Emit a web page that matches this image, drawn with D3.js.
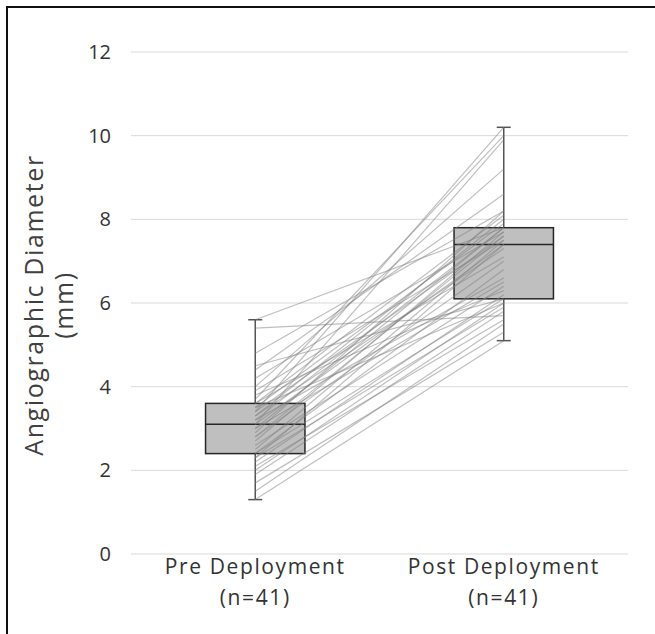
<!DOCTYPE html>
<html>
<head>
<meta charset="utf-8">
<script src="https://cdn.jsdelivr.net/npm/d3@7"></script>
<style>
  body { margin: 0; background: #fff; }
  svg { display: block; }
</style>
</head>
<body>
<div id="chart"></div>
<script>
// paired measurements, one entry per patient
let categories = ["Pre Deployment", "Post Deployment"];
let countLabels = ["(n=41)", "(n=41)"];
let preValues = [1.3, 1.5, 1.7, 1.9, 2.0, 2.1, 2.2, 2.3, 2.3, 2.4, 2.4, 2.5, 2.6, 2.7,
    2.8, 2.8, 2.9, 3.0, 3.0, 3.1, 3.1, 3.2, 3.2, 3.3, 3.3, 3.4, 3.4, 3.5, 3.5, 3.6,
    3.6, 3.7, 3.8, 3.9, 4.0, 4.2, 4.4, 4.5, 4.8, 5.4, 5.6];
let postValues = [5.1, 5.5, 5.3, 5.8, 6.0, 5.6, 6.2, 7.4, 5.9, 6.1, 6.8, 7.5, 6.4, 7.7,
    7.0, 7.6, 8.2, 7.8, 6.5, 7.4, 9.9, 7.8, 6.6, 8.0, 7.3, 10.2, 7.6, 7.9, 6.0, 8.1,
    7.1, 10.0, 6.3, 7.5, 9.2, 7.7, 8.6, 6.1, 8.2, 5.7, 7.8];
let yTicks = [0, 2, 4, 6, 8, 10, 12];

let w = 655;
let h = 634;

let svg = d3.select("#chart")
    .append("svg")
    .attr("width", w)
    .attr("height", h);

// frame (only top and left edges show)
svg.append("path")
    .attr("d", "M7,634 L7,7 L655,7")
    .attr("fill", "none")
    .attr("stroke", "#111")
    .attr("stroke-width", 2);

let x = d3.scaleBand()
    .domain(categories)
    .range([131, 628]);

let y = d3.scaleLinear()
    .domain([0, 12])
    .range([554, 52]);

// gridlines
svg.selectAll("line.grid")
    .data(yTicks)
    .enter()
    .append("line")
    .attr("class", "grid")
    .attr("x1", 131)
    .attr("x2", 628)
    .attr("y1", d => y(d))
    .attr("y2", d => y(d))
    .attr("stroke", "#d9d9d9")
    .attr("stroke-width", 1);

// y axis labels
let yAxis = d3.axisLeft(y).tickValues(yTicks).tickSize(0).tickPadding(0);
let yg = svg.append("g")
    .attr("transform", "translate(111,0)")
    .call(yAxis);
yg.select(".domain").remove();
yg.selectAll("text")
    .attr("font-family", "Open Sans")
    .attr("font-size", "20px")
    .attr("fill", "#333");

// x axis labels
let xg = svg.append("g");
xg.selectAll("text.cat")
    .data(categories)
    .enter()
    .append("text")
    .attr("class", "cat")
    .attr("x", d => x(d) + x.bandwidth() / 2)
    .attr("y", 574)
    .attr("text-anchor", "middle")
    .attr("font-family", "Open Sans")
    .attr("font-size", "21px")
    .attr("letter-spacing", "1.6px")
    .attr("fill", "#333")
    .text(d => d);
xg.selectAll("text.n")
    .data(categories)
    .enter()
    .append("text")
    .attr("class", "n")
    .attr("x", d => x(d) + x.bandwidth() / 2)
    .attr("y", 605)
    .attr("text-anchor", "middle")
    .attr("font-family", "Open Sans")
    .attr("font-size", "21px")
    .attr("letter-spacing", "1.6px")
    .attr("fill", "#333")
    .text((d, i) => countLabels[i]);

// y axis title
let title = svg.append("text")
    .attr("transform", "translate(43,305) rotate(-90)")
    .attr("text-anchor", "middle")
    .attr("font-family", "Open Sans")
    .attr("font-size", "25px")
    .attr("letter-spacing", "1.6px")
    .attr("fill", "#404040");
title.append("tspan").attr("x", 0).attr("dy", 0).text("Angiographic Diameter");
title.append("tspan").attr("x", 0).attr("dy", 30).text("(mm)");

// box stats
let groups = [preValues, postValues].map(function (vals, i) {
    let s = vals.slice().sort(d3.ascending);
    return {
        cat: categories[i],
        min: d3.min(s),
        q1: d3.quantile(s, 0.25),
        med: d3.quantile(s, 0.5),
        q3: d3.quantile(s, 0.75),
        max: d3.max(s)
    };
});

let boxW = x.bandwidth() * 0.4;
let capW = 14;
let cx = d => x(d.cat) + x.bandwidth() / 2;

// whiskers
svg.selectAll("line.whisker")
    .data(groups)
    .enter()
    .append("line")
    .attr("class", "whisker")
    .attr("x1", cx)
    .attr("x2", cx)
    .attr("y1", d => y(d.min))
    .attr("y2", d => y(d.max))
    .attr("stroke", "#555")
    .attr("stroke-width", 1.5);

[["min"], ["max"]].forEach(function (k) {
    svg.selectAll("line.cap-" + k[0])
        .data(groups)
        .enter()
        .append("line")
        .attr("x1", d => cx(d) - capW / 2)
        .attr("x2", d => cx(d) + capW / 2)
        .attr("y1", d => y(d[k[0]]))
        .attr("y2", d => y(d[k[0]]))
        .attr("stroke", "#555")
        .attr("stroke-width", 1.5);
});

// boxes
svg.selectAll("rect.box")
    .data(groups)
    .enter()
    .append("rect")
    .attr("class", "box")
    .attr("x", d => cx(d) - boxW / 2)
    .attr("y", d => y(d.q3))
    .attr("width", boxW)
    .attr("height", d => y(d.q1) - y(d.q3))
    .attr("fill", "#bfbfbf")
    .attr("stroke", "#262626")
    .attr("stroke-width", 1.5);

svg.selectAll("line.median")
    .data(groups)
    .enter()
    .append("line")
    .attr("x1", d => cx(d) - boxW / 2)
    .attr("x2", d => cx(d) + boxW / 2)
    .attr("y1", d => y(d.med))
    .attr("y2", d => y(d.med))
    .attr("stroke", "#262626")
    .attr("stroke-width", 1.5);

// patient lines on top
let pairs = preValues.map((v, i) => [v, postValues[i]]);
svg.selectAll("line.pair")
    .data(pairs)
    .enter()
    .append("line")
    .attr("class", "pair")
    .attr("x1", x(categories[0]) + x.bandwidth() / 2)
    .attr("x2", x(categories[1]) + x.bandwidth() / 2)
    .attr("y1", d => y(d[0]))
    .attr("y2", d => y(d[1]))
    .attr("stroke", "#808080")
    .attr("stroke-opacity", 0.5)
    .attr("stroke-width", 1.2);
</script>
</body>
</html>
